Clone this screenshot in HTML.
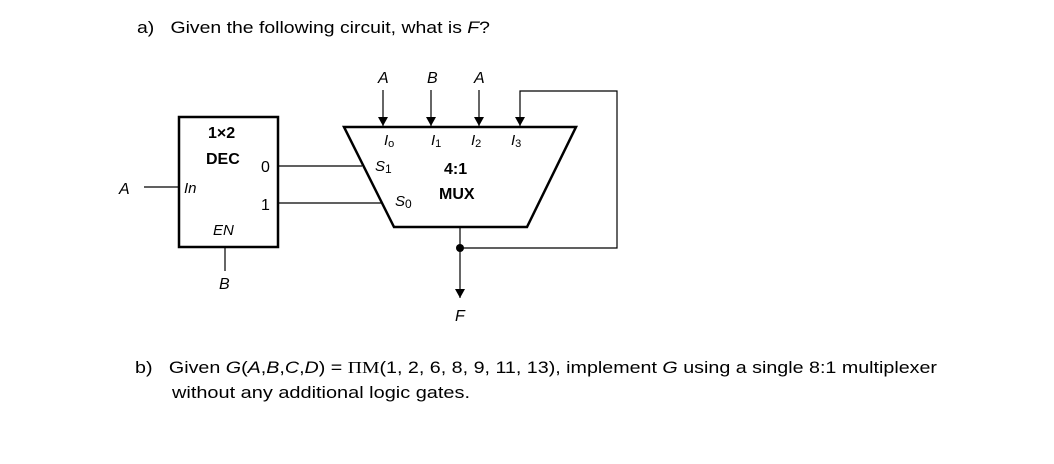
<!DOCTYPE html>
<html><head><style>html,body{margin:0;padding:0;background:#fff;}svg{display:block}</style></head>
<body>
<svg width="1054" height="464" viewBox="0 0 1054 464" xmlns="http://www.w3.org/2000/svg" font-family="Liberation Sans, sans-serif" fill="#000">
<defs><marker id="ar" markerWidth="9" markerHeight="10" refX="9" refY="5" orient="auto" markerUnits="userSpaceOnUse"><path d="M0,0 L9,5 L0,10 Z" fill="#000"/></marker></defs>
<text x="137" y="33" font-size="17" textLength="353" lengthAdjust="spacingAndGlyphs">a)&#160;&#160; Given the following circuit, what is <tspan font-style="italic">F</tspan>?</text>

<!-- DEC box -->
<rect x="179" y="117" width="99" height="130" fill="none" stroke="#000" stroke-width="2.5"/>
<text x="208" y="138" font-size="16" font-weight="bold">1×2</text>
<text x="206" y="164" font-size="16" font-weight="bold">DEC</text>
<text x="261" y="172" font-size="16">0</text>
<text x="261" y="210" font-size="16">1</text>
<text x="184" y="193" font-size="15" font-style="italic">In</text>
<text x="213" y="235" font-size="15" font-style="italic">EN</text>
<text x="119" y="194" font-size="16" font-style="italic">A</text>
<line x1="144" y1="187" x2="179" y2="187" stroke="#000" stroke-width="1.2"/>
<line x1="225" y1="247" x2="225" y2="271" stroke="#000" stroke-width="1.2"/>
<text x="219" y="289" font-size="16" font-style="italic">B</text>

<!-- select lines -->
<line x1="278" y1="166" x2="362" y2="166" stroke="#000" stroke-width="1.2"/>
<line x1="278" y1="203" x2="381" y2="203" stroke="#000" stroke-width="1.2"/>

<!-- MUX -->
<polygon points="344,127 576,127 527,227 394,227" fill="none" stroke="#000" stroke-width="2.5"/>
<text x="384" y="145" font-size="15" font-style="italic">I<tspan font-size="11" font-style="normal" dy="2">o</tspan></text>
<text x="431" y="145" font-size="15" font-style="italic">I<tspan font-size="11" font-style="normal" dy="2">1</tspan></text>
<text x="471" y="145" font-size="15" font-style="italic">I<tspan font-size="11" font-style="normal" dy="2">2</tspan></text>
<text x="511" y="145" font-size="15" font-style="italic">I<tspan font-size="11" font-style="normal" dy="2">3</tspan></text>
<text x="375" y="171" font-size="15" font-style="italic">S<tspan font-size="12" font-style="normal" dy="2">1</tspan></text>
<text x="395" y="206" font-size="15" font-style="italic">S<tspan font-size="12" font-style="normal" dy="2">0</tspan></text>
<text x="444" y="174" font-size="16" font-weight="bold">4:1</text>
<text x="439" y="199" font-size="16" font-weight="bold">MUX</text>

<!-- inputs -->
<text x="378" y="83" font-size="16" font-style="italic">A</text>
<text x="427" y="83" font-size="16" font-style="italic">B</text>
<text x="474" y="83" font-size="16" font-style="italic">A</text>
<line x1="383" y1="90" x2="383" y2="126" stroke="#000" stroke-width="1.2" marker-end="url(#ar)"/>
<line x1="431" y1="90" x2="431" y2="126" stroke="#000" stroke-width="1.2" marker-end="url(#ar)"/>
<line x1="479" y1="90" x2="479" y2="126" stroke="#000" stroke-width="1.2" marker-end="url(#ar)"/>
<polyline points="460,248 617,248 617,91 520,91 520,126" fill="none" stroke="#000" stroke-width="1.2" marker-end="url(#ar)"/>

<!-- output -->
<line x1="460" y1="227" x2="460" y2="298" stroke="#000" stroke-width="1.2" marker-end="url(#ar)"/>
<circle cx="460" cy="248" r="4"/>
<text x="455" y="321" font-size="16" font-style="italic">F</text>

<text x="135" y="373" font-size="17" textLength="802" lengthAdjust="spacingAndGlyphs">b)&#160;&#160; Given <tspan font-style="italic">G</tspan>(<tspan font-style="italic">A</tspan>,<tspan font-style="italic">B</tspan>,<tspan font-style="italic">C</tspan>,<tspan font-style="italic">D</tspan>) = <tspan font-family="Liberation Serif, serif">ΠM</tspan>(1, 2, 6, 8, 9, 11, 13), implement <tspan font-style="italic">G</tspan> using a single 8:1 multiplexer</text>
<text x="172" y="398" font-size="17" textLength="298" lengthAdjust="spacingAndGlyphs">without any additional logic gates.</text>
</svg>
</body></html>
